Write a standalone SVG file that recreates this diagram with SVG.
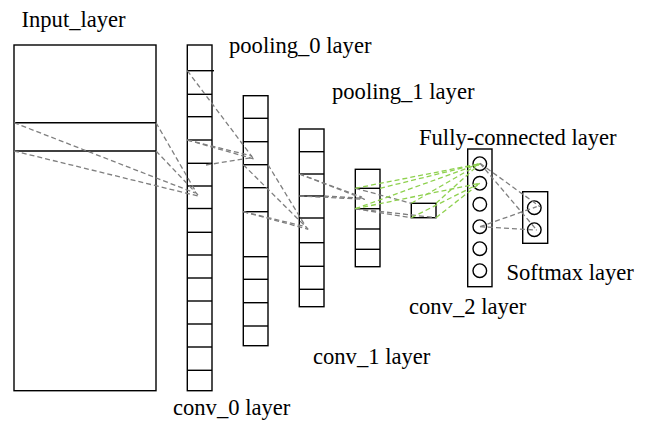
<svg xmlns="http://www.w3.org/2000/svg" width="646" height="425" viewBox="0 0 646 425">
<style>
.box{fill:none;stroke:#000;stroke-width:1.4}
.cell{stroke:#000;stroke-width:1.4}
.c{fill:none;stroke:#000;stroke-width:1.4}
.g{stroke:#7f7f7f;stroke-width:1.3;stroke-dasharray:5,3;fill:none}
.gr{stroke:#8fd14f;stroke-width:1.3;stroke-dasharray:5,3;fill:none}
text{font-family:"Liberation Serif","Times New Roman",serif;font-size:22.6px;fill:#000}
</style>
<rect width="646" height="425" fill="#fff"/>
<g id="input_layer">
<rect class="box" x="14" y="45" width="142" height="345.7"/>
<line class="cell" x1="14" y1="122.7" x2="156" y2="122.7"/>
<line class="cell" x1="14" y1="151" x2="156" y2="151"/>
<text x="21.5" y="26.5">Input_layer</text>
</g>
<g id="conv_0">
<rect class="box" x="187.3" y="45" width="24.7" height="345.7"/>
<line class="cell" x1="187.3" y1="70.7" x2="214" y2="70.7"/>
<line class="cell" x1="187.3" y1="94.3" x2="212" y2="94.3"/>
<line class="cell" x1="187.3" y1="116.7" x2="212" y2="116.7"/>
<line class="cell" x1="187.3" y1="140" x2="212" y2="140"/>
<line class="cell" x1="187.3" y1="163.3" x2="212" y2="163.3"/>
<line class="cell" x1="187.3" y1="186" x2="212" y2="186"/>
<line class="cell" x1="187.3" y1="208.5" x2="212" y2="208.5"/>
<line class="cell" x1="187.3" y1="232.3" x2="212" y2="232.3"/>
<line class="cell" x1="187.3" y1="255" x2="212" y2="255"/>
<line class="cell" x1="187.3" y1="278" x2="212" y2="278"/>
<line class="cell" x1="187.3" y1="301" x2="212" y2="301"/>
<line class="cell" x1="187.3" y1="324" x2="212" y2="324"/>
<line class="cell" x1="187.3" y1="347" x2="212" y2="347"/>
<line class="cell" x1="187.3" y1="370.3" x2="212" y2="370.3"/>
<text x="173" y="415">conv_0 layer</text>
</g>
<g id="pooling_0">
<rect class="box" x="243.3" y="95.7" width="24.7" height="250"/>
<line class="cell" x1="243.3" y1="118.3" x2="268" y2="118.3"/>
<line class="cell" x1="243.3" y1="141.7" x2="268" y2="141.7"/>
<line class="cell" x1="243.3" y1="164.7" x2="268" y2="164.7"/>
<line class="cell" x1="243.3" y1="187.7" x2="268" y2="187.7"/>
<line class="cell" x1="243.3" y1="211.7" x2="268" y2="211.7"/>
<line class="cell" x1="243.3" y1="256.7" x2="268" y2="256.7"/>
<line class="cell" x1="243.3" y1="279.3" x2="268" y2="279.3"/>
<line class="cell" x1="243.3" y1="302.7" x2="268" y2="302.7"/>
<line class="cell" x1="243.3" y1="326" x2="268" y2="326"/>
<text x="229" y="52.5">pooling_0 layer</text>
</g>
<g id="conv_1">
<rect class="box" x="299.3" y="129" width="24.7" height="177.7"/>
<line class="cell" x1="299.3" y1="151.7" x2="324" y2="151.7"/>
<line class="cell" x1="299.3" y1="174" x2="324" y2="174"/>
<line class="cell" x1="299.3" y1="196" x2="324" y2="196"/>
<line class="cell" x1="299.3" y1="218" x2="324" y2="218"/>
<line class="cell" x1="299.3" y1="242.7" x2="324" y2="242.7"/>
<line class="cell" x1="299.3" y1="266.3" x2="324" y2="266.3"/>
<line class="cell" x1="299.3" y1="289.3" x2="324" y2="289.3"/>
<text x="313" y="364">conv_1 layer</text>
</g>
<g id="pooling_1">
<rect class="box" x="355.3" y="169.3" width="24.7" height="97.4"/>
<line class="cell" x1="355.3" y1="188.3" x2="380" y2="188.3"/>
<line class="cell" x1="355.3" y1="208.7" x2="380" y2="208.7"/>
<line class="cell" x1="355.3" y1="229" x2="380" y2="229"/>
<line class="cell" x1="355.3" y1="249.3" x2="380" y2="249.3"/>
<text x="332" y="98.5">pooling_1 layer</text>
</g>
<g id="conv_2">
<rect class="box" x="411.3" y="203.3" width="24.7" height="14.4"/>
<text x="409" y="313.5">conv_2 layer</text>
</g>
<g id="fully_connected">
<rect class="box" x="467.7" y="149" width="24.3" height="137.7"/>
<circle class="c" cx="479.8" cy="163.7" r="6.8"/>
<circle class="c" cx="479.8" cy="183.3" r="6.8"/>
<circle class="c" cx="479.8" cy="204.3" r="6.8"/>
<circle class="c" cx="479.8" cy="226.7" r="6.8"/>
<circle class="c" cx="479.8" cy="248.7" r="6.8"/>
<circle class="c" cx="479.8" cy="270.7" r="6.8"/>
<text x="419" y="145">Fully-connected layer</text>
</g>
<g id="softmax">
<rect class="box" x="522.7" y="191.7" width="25" height="51.6"/>
<circle class="c" cx="534.3" cy="207.7" r="6.8"/>
<circle class="c" cx="534.3" cy="229.7" r="6.8"/>
<text x="506.5" y="280">Softmax layer</text>
</g>
<g id="connectors">
<line class="g" x1="14" y1="122.7" x2="195" y2="193"/>
<line class="g" x1="14" y1="151" x2="198" y2="196"/>
<line class="g" x1="156" y1="122.7" x2="196" y2="192"/>
<line class="g" x1="156" y1="151" x2="198" y2="195"/>
<line class="g" x1="187.3" y1="70.7" x2="253" y2="158"/>
<line class="g" x1="187.3" y1="140" x2="252" y2="156"/>
<line class="g" x1="187.3" y1="140" x2="254" y2="159"/>
<line class="g" x1="206" y1="165" x2="253" y2="157.5"/>
<line class="g" x1="243.3" y1="164.7" x2="308" y2="229"/>
<line class="g" x1="268" y1="164.7" x2="306" y2="227"/>
<line class="g" x1="243.3" y1="211.7" x2="308.3" y2="229.3"/>
<line class="g" x1="243.3" y1="211.7" x2="305" y2="226.5"/>
<line class="g" x1="299.3" y1="174" x2="365" y2="199.3"/>
<line class="g" x1="299.3" y1="174" x2="362" y2="197"/>
<line class="g" x1="299.3" y1="196" x2="365" y2="199.3"/>
<line class="g" x1="324" y1="196" x2="363" y2="198.3"/>
<line class="g" x1="355.3" y1="188.3" x2="411.3" y2="203.3"/>
<line class="g" x1="355.3" y1="208.7" x2="411.3" y2="217.7"/>
<line class="g" x1="355.3" y1="208.7" x2="436" y2="217.7"/>
<line class="gr" x1="355.3" y1="188.3" x2="479.8" y2="163.7"/>
<line class="gr" x1="380" y1="188.3" x2="479.8" y2="163.7"/>
<line class="gr" x1="355.3" y1="208.7" x2="479.8" y2="163.7"/>
<line class="gr" x1="411.3" y1="203.3" x2="479.8" y2="163.7"/>
<line class="gr" x1="436" y1="203.3" x2="479.8" y2="163.7"/>
<line class="gr" x1="355.3" y1="208.7" x2="479.8" y2="183.3"/>
<line class="gr" x1="411.3" y1="217.7" x2="479.8" y2="183.3"/>
<line class="gr" x1="436" y1="217.7" x2="479.8" y2="183.3"/>
<line class="g" x1="480" y1="163.3" x2="540" y2="206.7"/>
<line class="g" x1="480" y1="163.3" x2="536.7" y2="230"/>
<line class="g" x1="480" y1="226.7" x2="536.7" y2="206.7"/>
<line class="g" x1="480" y1="226.7" x2="536.7" y2="230"/>
</g>
</svg>
